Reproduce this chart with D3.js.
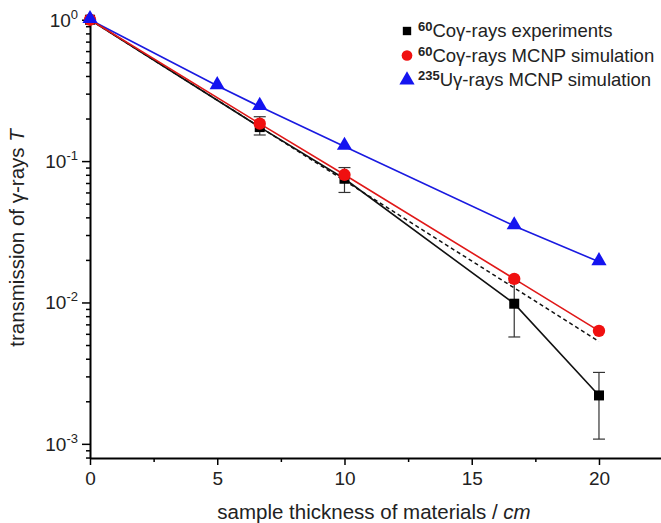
<!DOCTYPE html>
<html>
<head>
<meta charset="utf-8">
<script src="https://cdn.jsdelivr.net/npm/d3@7"></script>
<style>
  body { margin: 0; background: #fff; }
  text { font-family: "Liberation Sans", Arial, sans-serif; }
</style>
</head>
<body>
<script>
'use strict';

const w = 661;
const h = 523;

// thickness in cm
const xExp = [0, 6.67, 10, 16.67, 20];
const xCoSim = [0, 6.67, 10, 16.67, 20];
const xUSim = [0, 5, 6.67, 10, 16.67, 20];

// transmission values
const coExp = [1.0, 0.174, 0.075, 0.0098, 0.0022];
const coExpLow = [1.0, 0.153, 0.060, 0.0057, 0.00108];
const coExpHigh = [1.0, 0.206, 0.090, 0.0139, 0.0032];
const coSim = [1.0, 0.184, 0.080, 0.0147, 0.0063];
const uSim = [1.0, 0.341, 0.243, 0.127, 0.0348, 0.0194];

// dashed exponential fit
const fitX = [0, 20];
const fitY = [1.0, 0.0053];

const xTicks = [0, 5, 10, 15, 20];
const xMinor = [2.5, 7.5, 12.5, 17.5, 22.5];
const yExps = [0, -1, -2, -3];

const legendNames = [
  ['60', 'Coγ-rays experiments'],
  ['60', 'Coγ-rays MCNP simulation'],
  ['235', 'Uγ-rays MCNP simulation']
];

const svg = d3.select('body').append('svg').attr('width', w).attr('height', h);

const x = d3.scaleLinear().domain([0, 22.5]).range([90, 662.6]);
const y = d3.scaleLog().domain([7.94e-4, 1.08]).range([458, 15]);

/////////////////////////////////////////
// axes

const yMinor = [];
for (let e = -4; e <= 0; e++) {
  for (let k = 2; k <= 9; k++) {
    const v = k * Math.pow(10, e);
    if (v >= 7.94e-4 && v <= 1.08) yMinor.push(v);
  }
}

svg.append('g')
  .attr('transform', `translate(0,${y.range()[0]})`)
  .call(d3.axisBottom(x).tickValues(xMinor).tickSize(4).tickFormat(''))
  .call(g => g.select('.domain').remove())
  .selectAll('line').attr('stroke-width', 1.5);

svg.append('g')
  .attr('transform', `translate(0,${y.range()[0]})`)
  .call(d3.axisBottom(x).tickValues(xTicks).tickSize(7).tickSizeOuter(0).tickPadding(7))
  .call(g => g.select('.domain').attr('stroke-width', 2))
  .call(g => g.selectAll('line').attr('stroke-width', 1.5))
  .call(g => g.selectAll('text').attr('font-size', 19).attr('fill', '#222'));

svg.append('g')
  .attr('transform', `translate(${x(0)},0)`)
  .call(d3.axisLeft(y).tickValues(yMinor).tickSize(4).tickFormat(''))
  .call(g => g.select('.domain').remove())
  .selectAll('line').attr('stroke-width', 1.5);

svg.append('g')
  .attr('transform', `translate(${x(0)},0)`)
  .call(d3.axisLeft(y).tickValues(yExps.map(e => Math.pow(10, e))).tickSize(8).tickSizeOuter(0).tickFormat(''))
  .call(g => g.select('.domain').attr('stroke-width', 2))
  .call(g => g.selectAll('line').attr('stroke-width', 1.5));

// 10^n labels
const yLab = svg.selectAll('.ylab')
  .data(yExps)
  .enter()
  .append('text')
  .attr('class', 'ylab')
  .attr('x', x(0) - 12)
  .attr('y', d => y(Math.pow(10, d)) + 7)
  .attr('text-anchor', 'end')
  .attr('font-size', 19)
  .attr('fill', '#222');
yLab.append('tspan').text('10');
yLab.append('tspan').attr('font-size', 13).attr('dy', -8).text(d => d);

// axis titles
const xt = svg.append('text')
  .attr('x', 374)
  .attr('y', 519)
  .attr('text-anchor', 'middle')
  .attr('font-size', 20.5)
  .attr('fill', '#222');
xt.append('tspan').text('sample thickness of materials / ');
xt.append('tspan').attr('font-style', 'italic').text('cm');

const yt = svg.append('text')
  .attr('transform', 'translate(24,238) rotate(-90)')
  .attr('text-anchor', 'middle')
  .attr('font-size', 20.5)
  .attr('fill', '#222');
yt.append('tspan').text('transmission of γ-rays ');
yt.append('tspan').attr('font-style', 'italic').text('T');

/////////////////////////////////////////
// lines

const line = (xs, ys) => d3.line()
  .x((d, i) => x(xs[i]))
  .y(d => y(d))(ys);

svg.append('path')
  .attr('d', line(fitX, fitY))
  .attr('fill', 'none')
  .attr('stroke', '#111')
  .attr('stroke-width', 1.5)
  .attr('stroke-dasharray', '4,3');

svg.append('path')
  .attr('d', line(xUSim, uSim))
  .attr('fill', 'none')
  .attr('stroke', '#1a1ae0')
  .attr('stroke-width', 1.6);

svg.append('path')
  .attr('d', line(xExp, coExp))
  .attr('fill', 'none')
  .attr('stroke', '#111')
  .attr('stroke-width', 1.6);

svg.append('path')
  .attr('d', line(xCoSim, coSim))
  .attr('fill', 'none')
  .attr('stroke', '#e01818')
  .attr('stroke-width', 1.6);

// error bars
const eb = svg.selectAll('.eb')
  .data(xExp.slice(1))
  .enter()
  .append('g')
  .attr('stroke', '#333')
  .attr('stroke-width', 1.2);
eb.append('line')
  .attr('x1', d => x(d)).attr('x2', d => x(d))
  .attr('y1', (d, i) => y(coExpLow[i + 1]))
  .attr('y2', (d, i) => y(coExpHigh[i + 1]));
eb.append('line')
  .attr('x1', d => x(d) - 6).attr('x2', d => x(d) + 6)
  .attr('y1', (d, i) => y(coExpLow[i + 1]))
  .attr('y2', (d, i) => y(coExpLow[i + 1]));
eb.append('line')
  .attr('x1', d => x(d) - 6).attr('x2', d => x(d) + 6)
  .attr('y1', (d, i) => y(coExpHigh[i + 1]))
  .attr('y2', (d, i) => y(coExpHigh[i + 1]));

/////////////////////////////////////////
// markers

const sq = d3.symbol().type(d3.symbolSquare).size(100);
const ci = d3.symbol().type(d3.symbolCircle).size(120);
const tri = d3.symbol().type(d3.symbolTriangle).size(100);

svg.selectAll('.sq')
  .data(coExp)
  .enter()
  .append('path')
  .attr('d', sq)
  .attr('transform', (d, i) => `translate(${x(xExp[i])},${y(d)})`)
  .attr('fill', '#000');

svg.selectAll('.ci')
  .data(coSim)
  .enter()
  .append('path')
  .attr('d', ci)
  .attr('transform', (d, i) => `translate(${x(xCoSim[i])},${y(d)})`)
  .attr('fill', '#f01010');

svg.selectAll('.tri')
  .data(uSim)
  .enter()
  .append('path')
  .attr('d', tri)
  .attr('transform', (d, i) => `translate(${x(xUSim[i])},${y(d) - 1})`)
  .attr('fill', '#1414f0');

/////////////////////////////////////////
// legend

const legendColors = ['#000', '#f01010', '#1414f0'];

const lg = svg.selectAll('.lg')
  .data(legendNames)
  .enter()
  .append('g')
  .attr('transform', (d, i) => `translate(407,${31 + i * 24.5})`);

lg.append('path')
  .attr('d', (d, i) => d3.symbol().type([d3.symbolSquare, d3.symbolCircle, d3.symbolTriangle][i]).size([70, 90, 100][i])())
  .attr('fill', (d, i) => legendColors[i]);

const lt = lg.append('text')
  .attr('x', 11)
  .attr('y', 6)
  .attr('font-size', 18.5)
  .attr('fill', '#222');
lt.append('tspan').attr('font-size', 13).attr('font-weight', 'bold').attr('dy', -6).text(d => d[0]);
lt.append('tspan').attr('dy', 6).text(d => d[1]);
</script>
</body>
</html>
